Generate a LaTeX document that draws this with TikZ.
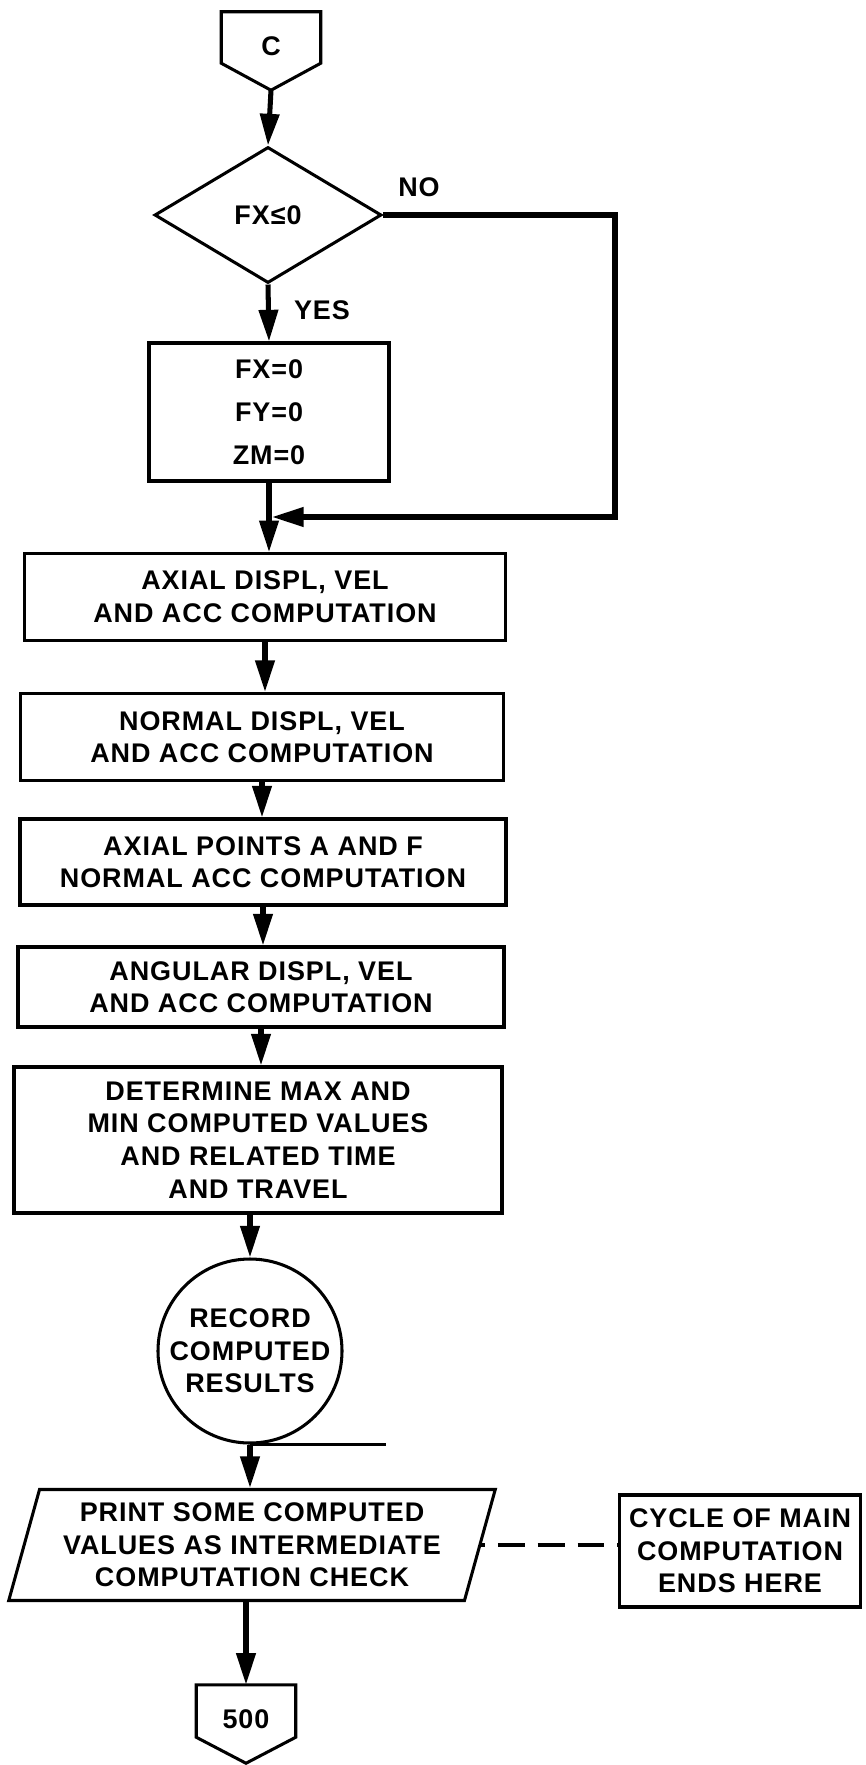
\documentclass[tikz,border=0pt]{standalone}
\usepackage{fontspec}
\setmainfont[LetterSpace=3.5]{Liberation Sans}
\usetikzlibrary{arrows.meta,shapes.geometric}

\tikzset{
  every node/.style={font=\bfseries\fontsize{23}{27.8}\selectfont, align=center},
  boxline/.style={line width=2.6pt},
  procbox/.style={draw, boxline, rectangle, inner sep=0pt},
  offpage/.style={minimum width=2.97cm, minimum height=2.04cm, inner sep=0pt},
  decision/.style={draw, boxline, diamond, aspect=1.67,
    minimum width=6.81cm, minimum height=4.08cm, inner sep=0pt},
  storage/.style={draw, boxline, circle, minimum size=5.52cm, inner sep=0pt},
  io/.style={draw, boxline, trapezium, trapezium left angle=72, trapezium right angle=108,
    trapezium stretches=true, minimum width=14.64cm, minimum height=3.33cm, inner sep=0pt},
  flow/.style={line width=4.3pt, -{Triangle[length=27pt,width=16pt]}},
  dashline/.style={line width=3.4pt,
    dash pattern=on 3pt off 11pt on 23pt off 11pt on 23pt off 11pt on 23pt off 11pt on 3pt off 100pt},
}

\begin{document}
\begin{tikzpicture}[x=0.03cm, y=-0.03cm]
    \useasboundingbox (0,0) rectangle (865,1765);
    \fill[white] (0,0) rectangle (865,1765);

    % top of the loop
    \node[offpage] (C) at (271,46) {C};
    \draw[boxline] ([yshift=0.51cm]C.south west) -- (C.north west) -- (C.north east)
      -- ([yshift=0.51cm]C.south east) -- ([yshift=-0.3cm]C.south) -- cycle;
    \coordinate (Ctip) at ([yshift=-0.3cm]C.south);
    \node[decision] (FX) at (268,215) {FX≤0};
    \node (no) at (419,187) {NO};
    \node (yes) at (322,310) {YES};
    \node[procbox, minimum width=7.2cm, minimum height=4.14cm,
      font=\bfseries\fontsize{23}{36.8}\selectfont] (zero) at (269,412) {FX=0\\FY=0\\ZM=0};
    \coordinate (noturn) at (615,517);
    \coordinate (join) at (272,517);

    % computations
    \node[procbox, minimum width=14.43cm, minimum height=2.6cm] (axial) at (265,597)
      {AXIAL DISPL, VEL\\AND ACC COMPUTATION};
    \node[procbox, minimum width=14.49cm, minimum height=2.61cm] (normal) at (262,737)
      {NORMAL DISPL, VEL\\AND ACC COMPUTATION};
    \node[procbox, minimum width=14.58cm, minimum height=2.58cm] (points) at (263,862)
      {AXIAL POINTS A AND F\\NORMAL ACC COMPUTATION};
    \node[procbox, minimum width=14.58cm, minimum height=2.4cm] (angular) at (261,987)
      {ANGULAR DISPL, VEL\\AND ACC COMPUTATION};
    \node[procbox, minimum width=14.64cm, minimum height=4.38cm] (maxmin) at (258,1140)
      {DETERMINE MAX AND\\MIN COMPUTED VALUES\\AND RELATED TIME\\AND TRAVEL};

    % output
    \node[storage] (record) at (250,1351) {RECORD\\COMPUTED\\RESULTS};
    \node[io] (print) at (252,1545)
      {PRINT SOME COMPUTED\\VALUES AS INTERMEDIATE\\COMPUTATION CHECK};
    \node[procbox, minimum width=7.23cm, minimum height=3.36cm] (ends) at (740,1551)
      {CYCLE OF MAIN\\COMPUTATION\\ENDS HERE};
    \node[offpage] (out) at (246,1719) {500};
    \draw[boxline] ([yshift=0.48cm]out.south west) -- (out.north west) -- (out.north east)
      -- ([yshift=0.48cm]out.south east) -- ([yshift=-0.3cm]out.south) -- cycle;

    \draw[flow] (Ctip) -- (FX.north);
    \draw[flow] (FX.south) -- (zero.north);
    \draw[flow] (zero.south) -- (zero.south |- axial.north);
    \draw[flow] (FX.east) -| (noturn) -- (join);
    \draw[flow] (axial.south) -- (axial.south |- normal.north);
    \draw[flow] (normal.south) -- (normal.south |- points.north);
    \draw[flow] (points.south) -- (points.south |- angular.north);
    \draw[flow] (angular.south) -- (angular.south |- maxmin.north);
    \draw[flow] (record.north |- maxmin.south) -- (record.north);
    \draw[boxline] (record.south) -- ++(136,0);
    \draw[flow] (record.south) -- (record.south |- print.north);
    \draw[dashline] (print.east) -- (print.east -| ends.west);
    \draw[flow] (out.north |- print.south) -- (out.north);
  \end{tikzpicture}
\end{document}
